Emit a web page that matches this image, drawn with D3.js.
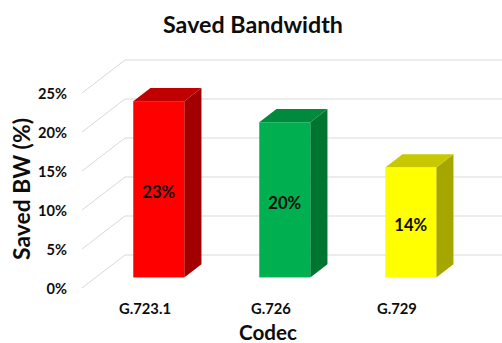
<!DOCTYPE html>
<html><head><meta charset="utf-8">
<script src="https://cdn.jsdelivr.net/npm/d3@7"></script>
<style>html,body{margin:0;padding:0;background:#fff;}svg{display:block;}</style>
</head><body>
<svg id="c" width="502" height="343"></svg>
<script>
const categories = ["G.723.1", "G.726", "G.729"];
const values = [0.226, 0.199, 0.141];
const yTicks = [0, 0.05, 0.10, 0.15, 0.20, 0.25];
const frontColors = ["#ff0000", "#00b050", "#ffff00"];
const topColors = ["#c00000", "#008a3e", "#c8c800"];
const sideColors = ["#a20000", "#007530", "#a6a600"];
const titleText = "Saved Bandwidth";
const yTitle = "Saved BW (%)";
const xTitle = "Codec";

const svg = d3.select("#c");
const FONT = "Lato, 'Open Sans', sans-serif";
const textCol = "#0d0d0d";

const y = d3.scaleLinear().domain([0, 0.25]).range([288, 93]);
const x = d3.scalePoint().domain(categories).range([82, 460]).padding(0.5);
const DX = 43, DY = -33;          // full floor depth offset
const z0 = 0.32, zd = 0.4;        // bar front depth, bar depth
const barW = 51;
const leftX = 82, rightX = 502;
const pct = d3.format(".0%");

function fitSize(str, base, target) {
  const t = svg.append("text").attr("font-family", FONT).attr("font-weight", "bold")
    .attr("font-size", base).text(str);
  const w = t.node().getComputedTextLength();
  t.remove();
  return base * target / w;
}

// gridlines
const g = svg.append("g");
yTicks.forEach(t => {
  const yy = y(t);
  g.append("line").attr("x1", leftX).attr("y1", yy).attr("x2", leftX + DX).attr("y2", yy + DY)
    .attr("stroke", "#d9d9d9").attr("stroke-width", 1);
  g.append("line").attr("x1", leftX + DX).attr("y1", yy + DY).attr("x2", rightX).attr("y2", yy + DY)
    .attr("stroke", "#d9d9d9").attr("stroke-width", 1);
});

// y tick labels
svg.append("g").selectAll("text").data(yTicks).join("text")
  .attr("x", 67).attr("y", d => y(d)).attr("text-anchor", "end")
  .attr("dominant-baseline", "central").attr("font-family", FONT).attr("font-weight", "bold")
  .attr("font-size", fitSize("25%", 15, 29)).attr("fill", textCol).text(d => pct(d));

// bars
const bars = svg.append("g");
const dfs = fitSize(pct(values[0]), 18, 33);
categories.forEach((c, i) => {
  const ox = DX * z0, oy = DY * z0;
  const ddx = DX * zd, ddy = DY * zd;
  const x0 = x(c) + ox - barW / 2, x1 = x0 + barW;
  const yb = y(0) + oy, yt = y(values[i]) + oy;
  bars.append("polygon")
    .attr("points", [[x1, yt], [x1 + ddx, yt + ddy], [x1 + ddx, yb + ddy], [x1, yb]].map(p => p.join(",")).join(" "))
    .attr("fill", sideColors[i]);
  bars.append("polygon")
    .attr("points", [[x0, yt], [x1, yt], [x1 + ddx, yt + ddy], [x0 + ddx, yt + ddy]].map(p => p.join(",")).join(" "))
    .attr("fill", topColors[i]);
  bars.append("rect").attr("x", x0).attr("y", yt).attr("width", barW).attr("height", yb - yt)
    .attr("fill", frontColors[i]);
  bars.append("text").attr("x", x0 + barW / 2).attr("y", (yt + yb) / 2 + 3)
    .attr("text-anchor", "middle").attr("dominant-baseline", "central")
    .attr("font-family", FONT).attr("font-weight", "bold").attr("font-size", dfs)
    .attr("fill", textCol).text(pct(values[i]));
});

// x labels
svg.append("g").selectAll("text").data(categories).join("text")
  .attr("x", d => x(d)).attr("y", 314).attr("text-anchor", "middle")
  .attr("font-family", FONT).attr("font-weight", "bold").attr("font-size", fitSize(categories[0], 16, 52))
  .attr("fill", textCol).text(d => d);

// titles
svg.append("text").attr("x", 253).attr("y", 33).attr("text-anchor", "middle")
  .attr("font-family", FONT).attr("font-weight", "bold").attr("font-size", fitSize(titleText, 22, 180))
  .attr("fill", textCol).text(titleText);
svg.append("text").attr("transform", "translate(30,189) rotate(-90)").attr("text-anchor", "middle")
  .attr("font-family", FONT).attr("font-weight", "bold").attr("font-size", fitSize(yTitle, 22, 142))
  .attr("fill", textCol).text(yTitle);
svg.append("text").attr("x", 268).attr("y", 340).attr("text-anchor", "middle")
  .attr("font-family", FONT).attr("font-weight", "bold").attr("font-size", fitSize(xTitle, 20, 58))
  .attr("fill", textCol).text(xTitle);
</script>
</body></html>
